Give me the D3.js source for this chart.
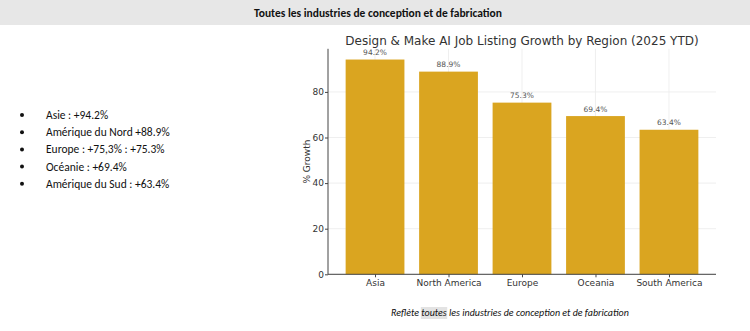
<!DOCTYPE html>
<html>
<head>
<meta charset="utf-8">
<script src="https://cdn.jsdelivr.net/npm/d3@7"></script>
<style>
  body { margin: 0; background: #fff; }
  svg { display: block; }
</style>
</head>
<body>
<div id="chart-container"></div>
<script>
const regions = ["Asia", "North America", "Europe", "Oceania", "South America"];
const growth = [94.2, 88.9, 75.3, 69.4, 63.4];
const bullets = [
    "Asie : +94.2%",
    "Amérique du Nord +88.9%",
    "Europe : +75,3% : +75.3%",
    "Océanie : +69.4%",
    "Amérique du Sud : +63.4%"
];
const yTicks = [0, 20, 40, 60, 80];

const width = 750;
const height = 331;
const slideFont = "Carlito, 'Liberation Sans Narrow', Lato, sans-serif";
const chartFont = "'DejaVu Sans', sans-serif";

const svg = d3.select("#chart-container")
    .append("svg")
        .attr("width", width)
        .attr("height", height);

// header band
svg.append("rect")
    .attr("x", 0).attr("y", 0)
    .attr("width", width).attr("height", 25)
    .attr("fill", "#e7e7e7");
svg.append("text")
    .attr("x", 378).attr("y", 16.5)
    .attr("text-anchor", "middle")
    .attr("font-family", slideFont)
    .attr("font-weight", "bold")
    .attr("font-size", 11.5)
    .attr("fill", "#111")
    .text("Toutes les industries de conception et de fabrication");

// bullet list
const list = svg.append("g");
bullets.forEach((t, i) => {
    const yy = 115 + i * 17.2;
    list.append("circle")
        .attr("cx", 22).attr("cy", yy)
        .attr("r", 2)
        .attr("fill", "#111");
    list.append("text")
        .attr("x", 46).attr("y", yy + 4)
        .attr("font-family", slideFont)
        .attr("font-size", 11.5)
        .attr("fill", "#111")
        .text(t);
});

// bar chart area
const plotL = 328, plotR = 716, plotT = 48.8, plotB = 274.3;

const x = d3.scaleLinear()
    .domain([-0.64, regions.length - 1 + 0.64])
    .range([plotL, plotR]);
const y = d3.scaleLinear()
    .domain([0, d3.max(growth) * 1.05])
    .range([plotB, plotT]);

const chart = svg.append("g");

// grid
chart.selectAll("line.hgrid")
    .data(yTicks)
    .enter().append("line")
        .attr("class", "hgrid")
        .attr("x1", plotL).attr("x2", plotR)
        .attr("y1", d => y(d)).attr("y2", d => y(d))
        .attr("stroke", "#ebebeb")
        .attr("stroke-width", 0.8);
chart.selectAll("line.vgrid")
    .data(regions)
    .enter().append("line")
        .attr("class", "vgrid")
        .attr("x1", (d, i) => x(i)).attr("x2", (d, i) => x(i))
        .attr("y1", plotT).attr("y2", plotB)
        .attr("stroke", "#ebebeb")
        .attr("stroke-width", 0.8);

// bars
chart.selectAll("rect.bar")
    .data(growth)
    .enter().append("rect")
        .attr("class", "bar")
        .attr("x", (d, i) => x(i - 0.4))
        .attr("width", x(0.4) - x(-0.4))
        .attr("y", d => y(d))
        .attr("height", d => plotB - y(d))
        .attr("fill", "#daa520");

// value labels
chart.selectAll("text.val")
    .data(growth)
    .enter().append("text")
        .attr("class", "val")
        .attr("x", (d, i) => x(i))
        .attr("y", d => y(d) - 4.5)
        .attr("text-anchor", "middle")
        .attr("font-family", chartFont)
        .attr("font-size", 7.5)
        .attr("fill", "#555")
        .text(d => d.toFixed(1) + "%");

// axes
const yAxis = d3.axisLeft(y).tickValues(yTicks).tickSize(3).tickPadding(1);
const xAxis = d3.axisBottom(x)
    .tickValues(d3.range(regions.length))
    .tickFormat(i => regions[i])
    .tickSize(3).tickPadding(2);

const gy = chart.append("g")
    .attr("transform", `translate(${plotL},0)`)
    .call(yAxis);
const gx = chart.append("g")
    .attr("transform", `translate(0,${plotB})`)
    .call(xAxis);
[gx, gy].forEach(g => {
    g.select(".domain").attr("stroke", "#444").attr("stroke-width", 1);
    g.selectAll(".tick line").attr("stroke", "#444");
    g.selectAll(".tick text")
        .attr("font-family", chartFont)
        .attr("font-size", 9)
        .attr("fill", "#333");
});
gy.select(".domain").attr("d", `M0,${plotT}V${plotB}`);
gx.select(".domain").attr("d", `M${plotL},0H${plotR}`);

// y label
chart.append("text")
    .attr("transform", `translate(309.5,${(plotT + plotB) / 2}) rotate(-90)`)
    .attr("text-anchor", "middle")
    .attr("font-family", chartFont)
    .attr("font-size", 9)
    .attr("fill", "#333")
    .text("% Growth");

// title
chart.append("text")
    .attr("x", (plotL + plotR) / 2)
    .attr("y", 44.5)
    .attr("text-anchor", "middle")
    .attr("font-family", chartFont)
    .attr("font-size", 12)
    .attr("fill", "#333")
    .text("Design & Make AI Job Listing Growth by Region (2025 YTD)");

// caption with highlighted word
const cap = svg.append("text")
    .attr("x", 391).attr("y", 316)
    .attr("font-family", slideFont)
    .attr("font-style", "italic")
    .attr("font-size", 10)
    .attr("fill", "#111");
cap.append("tspan").text("Reflète ");
cap.append("tspan").text("toutes");
cap.append("tspan").text(" les industries de conception et de fabrication");

const capNode = cap.node();
const start = capNode.getStartPositionOfChar(8);
const end = capNode.getEndPositionOfChar(13);
svg.insert("rect", () => capNode)
    .attr("x", start.x - 0.5)
    .attr("y", 307)
    .attr("width", end.x - start.x + 1)
    .attr("height", 12)
    .attr("fill", "#e3e3e3");
</script>
</body>
</html>
